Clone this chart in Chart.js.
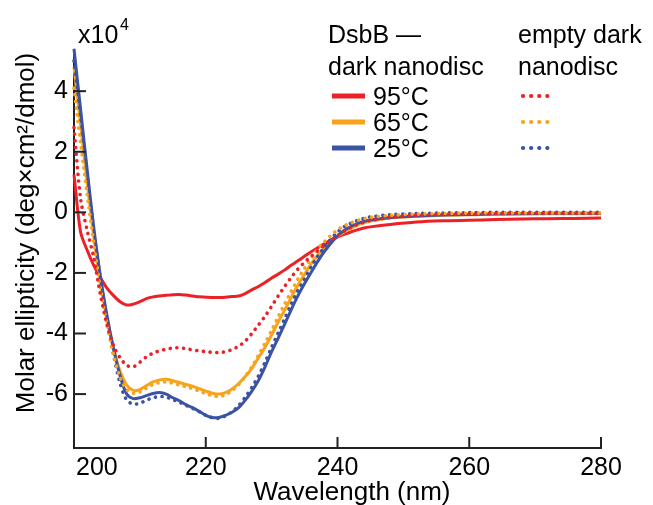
<!DOCTYPE html>
<html>
<head>
<meta charset="utf-8">
<title>CD spectra</title>
<script src="https://cdn.jsdelivr.net/npm/chart.js@4.4.1/dist/chart.umd.min.js"></script>
<style>
  body { margin: 0; background: #fff; }
  canvas { display: block; }
</style>
</head>
<body>
<canvas id="cdChart" width="653" height="505"></canvas>
<script>
// wavelength (nm)
const wavelength = [
  200,201,202,203,204,205,206,207,208,209,
  210,211,212,213,214,215,216,217,218,219,
  220,221,222,223,224,225,226,227,228,229,
  230,231,232,233,234,235,236,237,238,239,
  240,241,242,243,244,245,248,252,256,260,
  264,268,272,276,280
];

// molar ellipticity, x10^4 deg cm2/dmol
// DsbB in dark nanodisc
const dsbb95 = [
  1.25,-0.65,-1.25,-1.75,-2.15,-2.50,-2.75,-2.95,-3.06,-3.03,
  -2.95,-2.85,-2.79,-2.76,-2.74,-2.72,-2.71,-2.73,-2.76,-2.79,
  -2.80,-2.81,-2.81,-2.80,-2.78,-2.76,-2.68,-2.56,-2.45,-2.32,
  -2.17,-2.04,-1.90,-1.74,-1.60,-1.45,-1.30,-1.17,-1.04,-0.92,
  -0.82,-0.73,-0.65,-0.58,-0.52,-0.48,-0.40,-0.32,-0.28,-0.26,
  -0.24,-0.22,-0.21,-0.20,-0.19
];
const dsbb65 = [
  4.80,2.90,1.00,-0.80,-2.30,-3.50,-4.50,-5.25,-5.70,-5.88,
  -5.85,-5.72,-5.60,-5.53,-5.51,-5.56,-5.62,-5.68,-5.74,-5.82,
  -5.90,-5.97,-6.00,-5.95,-5.83,-5.65,-5.42,-5.15,-4.80,-4.45,
  -4.05,-3.62,-3.22,-2.80,-2.40,-2.05,-1.70,-1.42,-1.20,-0.97,
  -0.80,-0.65,-0.53,-0.43,-0.35,-0.29,-0.19,-0.13,-0.10,-0.08,
  -0.07,-0.06,-0.05,-0.05,-0.05
];
const dsbb25 = [
  5.40,3.40,1.40,-0.50,-2.10,-3.40,-4.50,-5.40,-6.00,-6.15,
  -6.12,-6.05,-5.98,-5.95,-6.00,-6.12,-6.22,-6.35,-6.45,-6.57,
  -6.70,-6.77,-6.77,-6.70,-6.60,-6.45,-6.20,-5.90,-5.55,-5.10,
  -4.60,-4.15,-3.68,-3.20,-2.75,-2.35,-1.98,-1.62,-1.30,-1.02,
  -0.78,-0.60,-0.47,-0.37,-0.30,-0.25,-0.17,-0.12,-0.09,-0.07,
  -0.05,-0.04,-0.03,-0.03,-0.03
];
// empty dark nanodisc
const empty95 = [
  2.80,0.45,-0.60,-1.50,-2.70,-3.70,-4.40,-4.80,-5.05,-5.10,
  -4.95,-4.77,-4.65,-4.57,-4.52,-4.48,-4.47,-4.50,-4.54,-4.57,
  -4.60,-4.62,-4.63,-4.60,-4.53,-4.42,-4.25,-4.00,-3.72,-3.43,
  -3.10,-2.76,-2.44,-2.14,-1.87,-1.65,-1.45,-1.27,-1.10,-0.92,
  -0.77,-0.62,-0.50,-0.40,-0.33,-0.27,-0.17,-0.10,-0.07,-0.05,
  -0.04,-0.03,-0.03,-0.03,-0.03
];
const empty65 = [
  4.10,2.30,0.60,-1.00,-2.50,-3.70,-4.70,-5.45,-5.85,-5.97,
  -5.93,-5.80,-5.68,-5.62,-5.60,-5.64,-5.70,-5.76,-5.82,-5.90,
  -5.98,-6.05,-6.08,-6.02,-5.88,-5.68,-5.42,-5.10,-4.72,-4.32,
  -3.90,-3.45,-3.02,-2.60,-2.20,-1.85,-1.52,-1.22,-0.97,-0.76,
  -0.58,-0.45,-0.35,-0.27,-0.21,-0.17,-0.10,-0.06,-0.04,-0.03,
  -0.02,-0.02,-0.02,-0.02,-0.02
];
const empty25 = [
  5.00,3.10,1.20,-0.60,-2.20,-3.55,-4.70,-5.65,-6.20,-6.33,
  -6.30,-6.20,-6.12,-6.08,-6.10,-6.18,-6.27,-6.37,-6.47,-6.58,
  -6.70,-6.78,-6.80,-6.72,-6.58,-6.38,-6.10,-5.78,-5.40,-4.95,
  -4.45,-3.98,-3.50,-3.02,-2.58,-2.20,-1.80,-1.45,-1.15,-0.88,
  -0.65,-0.48,-0.36,-0.27,-0.20,-0.15,-0.08,-0.04,-0.02,-0.01,
  0.00,0.00,0.00,0.00,0.00
];

const temps = ['95°C', '65°C', '25°C'];
const xTicks = [200, 220, 240, 260, 280];
const yTicks = [-6, -4, -2, 0, 2, 4];
const xTitle = 'Wavelength (nm)';
const yTitle = 'Molar ellipticity (deg×cm²/dmol)';
const groupTitles = [['DsbB —', 'dark nanodisc'], ['empty dark', 'nanodisc']];

const RED = 'rgb(236,32,39)';
const ORANGE = 'rgb(249,163,27)';
const BLUE = 'rgb(59,83,164)';
const FONT = '"Liberation Sans", Arial, sans-serif';
const DOTS = [0.1, 6.6];

function pts(arr) {
  return wavelength.map((w, i) => ({ x: w, y: arr[i] }));
}

function solid(label, color, arr, order) {
  return { label: label, data: pts(arr), borderColor: color, borderWidth: 3,
    pointRadius: 0, tension: 0.3, clip: false, order: order };
}
function dotted(label, color, arr, order) {
  return { label: label, data: pts(arr), borderColor: color, borderWidth: 3.6,
    borderDash: DOTS, borderCapStyle: 'round', pointRadius: 0, tension: 0.3,
    clip: false, order: order };
}

const datasets = [
  dotted('empty ' + temps[0], RED, empty95, 1),
  dotted('empty ' + temps[1], ORANGE, empty65, 2),
  dotted('empty ' + temps[2], BLUE, empty25, 3),
  solid('DsbB ' + temps[0], RED, dsbb95, 6),
  solid('DsbB ' + temps[1], ORANGE, dsbb65, 5),
  solid('DsbB ' + temps[2], BLUE, dsbb25, 4)
];

// axis decorations, titles and the two-column legend
const decor = {
  id: 'decor',
  afterDraw(chart) {
    const ctx = chart.ctx;
    const xs = chart.scales.x, ys = chart.scales.y;
    const area = chart.chartArea;
    ctx.save();
    ctx.strokeStyle = '#222';
    ctx.lineWidth = 2;
    // inward tick marks
    xTicks.forEach(v => {
      const px = xs.getPixelForValue(v);
      ctx.beginPath(); ctx.moveTo(px, area.bottom); ctx.lineTo(px, area.bottom - 11); ctx.stroke();
    });
    yTicks.forEach(v => {
      const py = ys.getPixelForValue(v);
      ctx.beginPath(); ctx.moveTo(area.left, py); ctx.lineTo(area.left + 12, py); ctx.stroke();
    });

    ctx.fillStyle = '#000';
    ctx.font = '25px ' + FONT;
    ctx.textBaseline = 'alphabetic';
    // x tick labels (first one sits inside the axis corner)
    xTicks.forEach((v, i) => {
      const px = xs.getPixelForValue(v);
      ctx.textAlign = i === 0 ? 'left' : 'center';
      ctx.fillText(String(v), i === 0 ? px + 2 : px, 475);
    });

    // axis titles
    ctx.font = '26px ' + FONT;
    ctx.textAlign = 'center';
    ctx.fillText(xTitle, 352, 500);
    ctx.save();
    ctx.translate(34, 233);
    ctx.rotate(-Math.PI / 2);
    ctx.fillText(yTitle, 0, 0);
    ctx.restore();

    // x10^4 multiplier
    ctx.font = '25px ' + FONT;
    ctx.textAlign = 'left';
    ctx.fillText('x10', 78, 43);
    ctx.font = '16px ' + FONT;
    ctx.fillText('4', 120, 30);

    // legend
    ctx.font = '25px ' + FONT;
    const cols = [328, 518];
    groupTitles.forEach((t, c) => {
      ctx.fillText(t[0], cols[c], 43);
      ctx.fillText(t[1], cols[c], 75);
    });
    const rowsY = [96, 122, 148];
    const solids = chart.data.datasets.slice(3);
    const dots = chart.data.datasets.slice(0, 3);
    rowsY.forEach((y, r) => {
      ctx.save();
      ctx.strokeStyle = solids[r].borderColor;
      ctx.lineWidth = 5;
      ctx.beginPath(); ctx.moveTo(332, y); ctx.lineTo(365, y); ctx.stroke();
      ctx.strokeStyle = dots[r].borderColor;
      ctx.lineWidth = 4.2;
      ctx.lineCap = 'round';
      ctx.setLineDash([0.1, 8]);
      ctx.beginPath(); ctx.moveTo(523, y); ctx.lineTo(548, y); ctx.stroke();
      ctx.restore();
      ctx.fillStyle = '#000';
      ctx.fillText(temps[r], 373, y + 9);
    });
    ctx.restore();
  }
};

new Chart(document.getElementById('cdChart'), {
  type: 'line',
  data: { datasets: datasets },
  plugins: [decor],
  options: {
    responsive: false,
    animation: false,
    devicePixelRatio: 1,
    layout: { padding: { top: 53, right: 52, left: 0, bottom: 0 } },
    plugins: { legend: { display: false }, tooltip: { enabled: false } },
    scales: {
      x: {
        type: 'linear',
        min: 200,
        max: 280,
        afterBuildTicks: s => { s.ticks = xTicks.map(v => ({ value: v })); },
        afterFit: s => { s.height = 57; },
        ticks: { display: false },
        grid: { display: false, drawTicks: false },
        border: { display: true, color: '#222', width: 2 }
      },
      y: {
        type: 'linear',
        min: -7.78,
        max: 5.26,
        afterBuildTicks: s => { s.ticks = yTicks.map(v => ({ value: v })); },
        afterFit: s => { s.width = 74; },
        ticks: { color: '#000', padding: 6, font: { family: FONT, size: 25 } },
        grid: { display: false, drawTicks: false },
        border: { display: true, color: '#222', width: 2 }
      }
    }
  }
});
</script>
</body>
</html>
